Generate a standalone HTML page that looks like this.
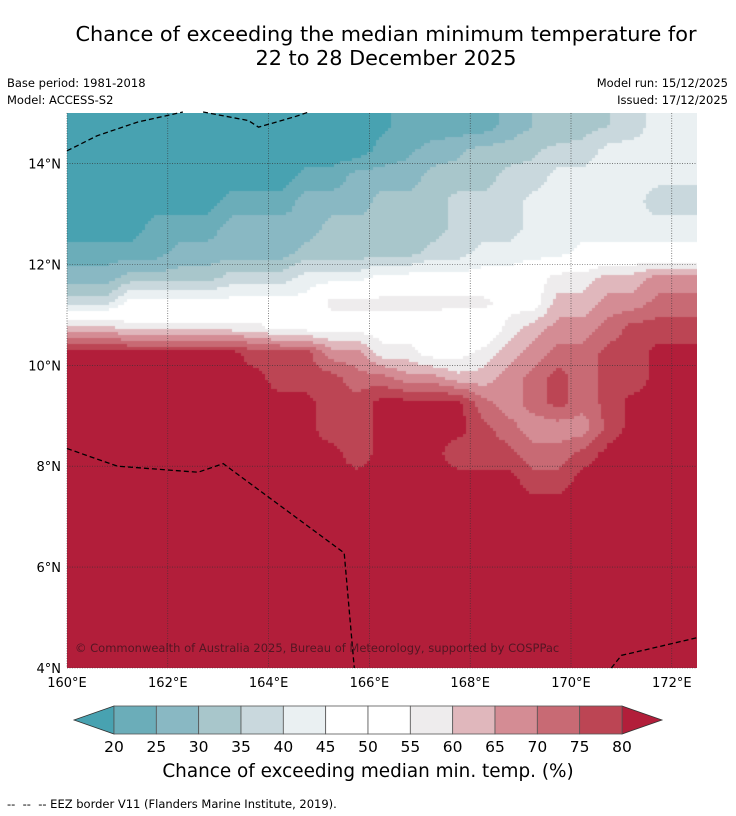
<!DOCTYPE html>
<html><head><meta charset="utf-8">
<style>
body{margin:0;background:#fff;width:736px;height:816px;overflow:hidden;font-family:"DejaVu Sans","Liberation Sans",sans-serif;}
#wrap{position:relative;width:736px;height:816px;}
.t{position:absolute;color:#000;white-space:nowrap;}
</style></head>
<body>
<div id="wrap">
<div class="t" style="left:0;width:772px;text-align:center;top:22px;font-size:20.8px;line-height:24px;">Chance of exceeding the median minimum temperature for<br>22 to 28 December 2025</div>
<div class="t" style="left:7px;top:76px;font-size:11.5px;">Base period: 1981-2018</div>
<div class="t" style="left:7px;top:93px;font-size:11.5px;">Model: ACCESS-S2</div>
<div class="t" style="right:8px;top:76px;font-size:11.5px;">Model run: 15/12/2025</div>
<div class="t" style="right:8px;top:93px;font-size:11.5px;">Issued: 17/12/2025</div>
<canvas id="field" width="630" height="555" style="position:absolute;left:67px;top:113px;"></canvas>
<svg id="ov" width="736" height="816" style="position:absolute;left:0;top:0;"></svg>
<div class="t" style="left:75px;top:641px;font-size:11.5px;color:rgba(60,20,30,0.8);">© Commonwealth of Australia 2025, Bureau of Meteorology, supported by COSPPac</div>
<div class="t" style="left:0;width:736px;text-align:center;top:761px;font-size:18.4px;">Chance of exceeding median min. temp. (%)</div>
<div class="t" style="left:7px;top:797px;font-size:11.5px;">--&nbsp; --&nbsp; -- EEZ border V11 (Flanders Marine Institute, 2019).</div>
</div>
<script>
const lons=[160.25,160.75,161.25,161.75,162.25,162.75,163.25,163.75,164.25,164.75,165.25,165.75,166.25,166.75,167.25,167.75,168.25,168.75,169.25,169.75,170.25,170.75,171.25,171.75,172.25];
const lats=[14.75,14.25,13.75,13.25,12.75,12.25,11.75,11.25,10.75,10.25,9.75,9.25,8.75,8.25,7.75,7.25,6.75,6.25,5.75,5.25,4.75,4.25];
const A=Array(25).fill(82);
const grid=[
[17,17,17,17,17,17,17,17,17,17,17,17,19,22,22,22,22,27,30,30,33,35,38,42,42],
[17,17,17,17,17,17,17,17,17,17,17,17,22,24,27,29,32,32,34,37,37,42,42,42,42],
[17,17,17,17,17,17,17,17,17,22,22,27,27,27,32,32,32,37,37,42,42,42,42,42,42],
[17,17,17,17,17,17,22,22,22,27,27,27,32,32,32,37,37,37,42,42,42,42,42,37,37],
[17,17,17,22,22,22,27,27,27,27,32,32,32,32,32,37,37,37,42,42,42,42,42,42,42],
[22,22,22,22,27,27,27,27,27,32,32,32,32,32,37,37,42,42,42,42,47,47,47,47,47],
[27,27,32,32,32,32,37,37,37,42,42,42,47,47,47,47,47,47,52,57,57,62,62,67,67],
[37,37,47,47,47,47,47,47,47,47,57,57,57,57,57,57,57,52,52,62,62,67,67,72,72],
[62,62,57,57,57,57,57,57,52,52,52,52,52,52,52,47,47,57,62,67,67,72,77,77,77],
[82,82,82,82,82,82,82,77,77,77,67,67,57,57,52,52,57,62,67,72,72,77,77,82,82],
[82,82,82,82,82,82,82,82,77,77,77,72,72,67,67,62,62,67,72,77,72,77,77,82,82],
[82,82,82,82,82,82,82,82,82,82,77,77,82,82,82,82,72,67,72,77,72,77,82,82,82],
[82,82,82,82,82,82,82,82,82,82,77,77,82,82,82,82,77,72,67,67,67,77,82,82,82],
[82,82,82,82,82,82,82,82,82,82,82,77,82,82,82,77,77,77,72,72,77,82,82,82,82],
[82,82,82,82,82,82,82,82,82,82,82,82,82,82,82,82,82,82,77,77,82,82,82,82,82],
A,A,A,A,A,A,A];
const levels=[20,25,30,35,40,45,50,55,60,65,70,75,80];
const colors=["#48a2b1","#6badb9","#89b8c3","#a8c6cb","#c9d8dd","#eaf0f2","#ffffff","#ffffff","#eeeced","#e0b7bc","#d48c94","#c86a74","#bc4554","#b21e3a"];
const lonTicks=[160,162,164,166,168,170,172];
const latTicks=[4,6,8,10,12,14];
const eezLines=[
 [[160,14.25],[160.6,14.55],[161.4,14.82],[162.3,15.02]],
 [[162.7,15.02],[163.6,14.85],[163.8,14.72],[164.5,14.92],[164.8,15.02]],
 [[160,8.35],[161,8.0],[162.6,7.88],[163.1,8.05],[165.5,6.28],[165.7,4.0]],
 [[170.8,4.0],[171.0,4.25],[172.5,4.6]]];
const X=lon=>67+(lon-160)*50.4, Y=lat=>668-(lat-4)*55.5/1.1;
function val(lon,lat){
  let fi=(lon-lons[0])/0.5, fj=(lats[0]-lat)/0.5;
  fi=Math.max(0,Math.min(lons.length-1,fi)); fj=Math.max(0,Math.min(lats.length-1,fj));
  const i0=Math.min(Math.floor(fi),lons.length-2), j0=Math.min(Math.floor(fj),lats.length-2);
  const a=fi-i0,b=fj-j0;
  return grid[j0][i0]*(1-a)*(1-b)+grid[j0][i0+1]*a*(1-b)+grid[j0+1][i0]*(1-a)*b+grid[j0+1][i0+1]*a*b;
}
function col(v){let k=0;while(k<levels.length&&v>=levels[k])k++;return colors[k];}
const cv=document.getElementById('field'),ctx=cv.getContext('2d');
for(let py=0;py<555;py+=3)for(let px=0;px<630;px+=3){
  const lon=160+(px+1.5)/50.4, lat=4+(555-py-1.5)/50.45;
  ctx.fillStyle=col(val(lon,lat));ctx.fillRect(px,py,3,3);
}
const NS='http://www.w3.org/2000/svg',ov=document.getElementById('ov');
function mk(t,at,p){const e=document.createElementNS(NS,t);for(const k in at)e.setAttribute(k,at[k]);(p||ov).appendChild(e);return e;}
lonTicks.forEach(l=>{
  const g=mk('line',{x1:X(l),x2:X(l),y1:113,y2:668,stroke:'#333','stroke-width':0.6,'stroke-dasharray':'1,1.5'});
  
  
  const t=mk('text',{x:X(l),y:687,'font-size':13,'text-anchor':'middle','font-family':'DejaVu Sans'});t.textContent=l+'°E';
  
  
});
latTicks.forEach(l=>{
  const g=mk('line',{x1:67,x2:697,y1:Y(l),y2:Y(l),stroke:'#333','stroke-width':0.6,'stroke-dasharray':'1,1.5'});
  
  
  const t=mk('text',{x:61,y:Y(l)+5,'font-size':13,'text-anchor':'end','font-family':'DejaVu Sans'});t.textContent=l+'°N';
  
  
});
eezLines.forEach(ln=>{
  const p=mk('polyline',{points:ln.map(q=>X(q[0])+','+Y(q[1])).join(' '),fill:'none',stroke:'#000','stroke-width':1.3,'stroke-dasharray':'5,3'});
  
  
});
const cbx0=114,cbx1=622,cby=706,cbh=28,w=(cbx1-cbx0)/12;
const lt=mk('polygon',{points:`${cbx0},${cby} 74,${cby+cbh/2} ${cbx0},${cby+cbh}`,fill:colors[0],stroke:'#333','stroke-width':0.8});


const rt=mk('polygon',{points:`${cbx1},${cby} 662,${cby+cbh/2} ${cbx1},${cby+cbh}`,fill:colors[13],stroke:'#333','stroke-width':0.8});


for(let k=0;k<12;k++){
  const r=mk('rect',{x:cbx0+k*w,y:cby,width:w,height:cbh,fill:colors[k+1],stroke:'#555','stroke-width':0.8});
  
  
}
levels.forEach((l,k)=>{
  const t=mk('text',{x:cbx0+k*w,y:752,'font-size':15.5,'text-anchor':'middle','font-family':'DejaVu Sans'});t.textContent=l;
  
  
});
</script>
</body></html>
